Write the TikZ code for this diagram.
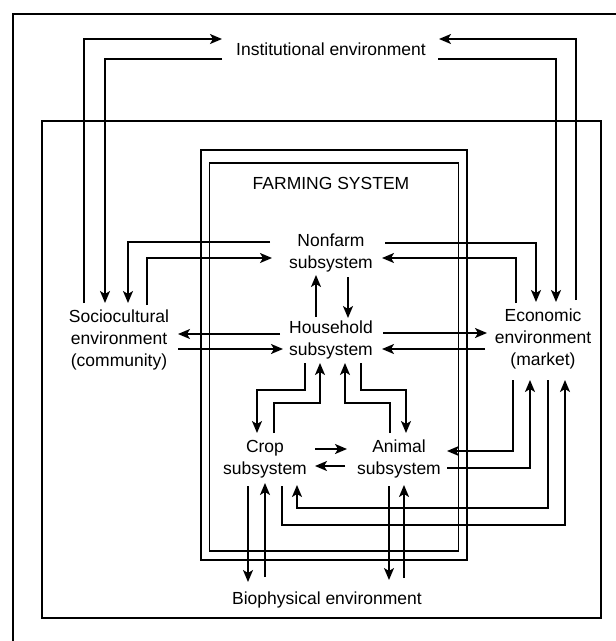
\documentclass[tikz,border=0pt]{standalone}
\usepackage{fontspec}
\setmainfont{Liberation Sans}
\usetikzlibrary{arrows.meta}

\begin{document}
\begin{tikzpicture}[x=1pt,y=-1pt,
  frame/.style={line width=1.7pt},
  flow/.style={line width=1.7pt,-{Stealth[length=12pt,width=10pt,inset=3pt]}},
  lbl/.style={inner sep=0pt,align=center,font=\fontsize{17.5}{22}\selectfont}]
\useasboundingbox (0,0) rectangle (616,641);

% frames
\draw[frame] (13,641) |- (616,14);
\draw[frame] (42,121) rectangle (601,618);
\draw[frame] (201,150) rectangle (467,560);
\draw[frame] (209.5,163) rectangle (458.5,551);

% labels
\node[lbl] (inst) at (331,49) {Institutional environment};
\node[lbl] (farm) at (331,183) {FARMING SYSTEM};
\node[lbl] (nonfarm) at (331,253) {Nonfarm\\subsystem};
\node[lbl] (house) at (331,340) {Household\\subsystem};
\node[lbl] (socio) at (119,340) {Sociocultural\\environment\\(community)};
\node[lbl] (econ) at (543,339) {Economic\\environment\\(market)};
\node[lbl] (crop) at (265,459) {Crop\\subsystem};
\node[lbl] (animal) at (399,459) {Animal\\subsystem};
\node[lbl] (bio) at (327,600) {Biophysical environment};

% institutional loops
\draw[flow] ([shift={(-35,-37)}]socio.center) |- ([shift={(-109,-10)}]inst.center);
\draw[flow] ([shift={(-109,10)}]inst.center) -| ([shift={(-14,-37)}]socio.center);
\draw[flow] ([shift={(33,-39)}]econ.center) |- ([shift={(108,-10)}]inst.center);
\draw[flow] ([shift={(107,10)}]inst.center) -| ([shift={(13,-37)}]econ.center);

% nonfarm links
\draw[flow] ([shift={(-61,-11)}]nonfarm.center) -| ([shift={(9,-37)}]socio.center);
\draw[flow] ([shift={(28,-35)}]socio.center) |- ([shift={(-59,5)}]nonfarm.center);
\draw[flow] ([shift={(54,-10)}]nonfarm.center) -| ([shift={(-7,-37)}]econ.center);
\draw[flow] ([shift={(-27,-36)}]econ.center) |- ([shift={(51,5)}]nonfarm.center);
\draw[flow] ([shift={(-15,-23)}]house.center) -- ([shift={(-15,22)}]nonfarm.center);
\draw[flow] ([shift={(17,24)}]nonfarm.center) -- ([shift={(17,-22)}]house.center);

% household links
\draw[flow] ([shift={(-51,-6)}]house.center) -- ([shift={(59,-6)}]socio.center);
\draw[flow] ([shift={(59,9)}]socio.center) -- ([shift={(-48,9)}]house.center);
\draw[flow] ([shift={(52,-7)}]house.center) -- ([shift={(-56,-6)}]econ.center);
\draw[flow] ([shift={(-58,10)}]econ.center) -- ([shift={(51,9)}]house.center);
\draw[flow] ([shift={(-26,23)}]house.center) -- ++(0,27) -| ([shift={(-8,-26)}]crop.center);
\draw[flow] ([shift={(9,-26)}]crop.center) -- ++(0,-30) -| ([shift={(-11,23)}]house.center);
\draw[flow] ([shift={(30,23)}]house.center) -- ++(0,27) -| ([shift={(7,-26)}]animal.center);
\draw[flow] ([shift={(-9,-26)}]animal.center) -- ++(0,-30) -| ([shift={(14,23)}]house.center);

% crop and animal
\draw[flow] ([shift={(50,-10)}]crop.center) -- ([shift={(-52,-10)}]animal.center);
\draw[flow] ([shift={(-54,7)}]animal.center) -- ([shift={(50,7)}]crop.center);
\draw[flow] ([shift={(-17,27)}]crop.center) -- ([shift={(-79,-18)}]bio.center);
\draw[flow] ([shift={(-62,-23)}]bio.center) -- ([shift={(0,24)}]crop.center);
\draw[flow] ([shift={(-10,27)}]animal.center) -- ([shift={(62,-20)}]bio.center);
\draw[flow] ([shift={(77,-22)}]bio.center) -- ([shift={(5,26)}]animal.center);

% market links
\draw[flow] ([shift={(-30,41)}]econ.center) |- ([shift={(48,-8)}]animal.center);
\draw[flow] ([shift={(48,9)}]animal.center) -| ([shift={(-13,41)}]econ.center);
\draw[flow] ([shift={(5,41)}]econ.center) -- ++(0,128) -| ([shift={(32,26)}]crop.center);
\draw[flow] ([shift={(17,27)}]crop.center) -- ++(0,39) -| ([shift={(22,41)}]econ.center);
\end{tikzpicture}
\end{document}
